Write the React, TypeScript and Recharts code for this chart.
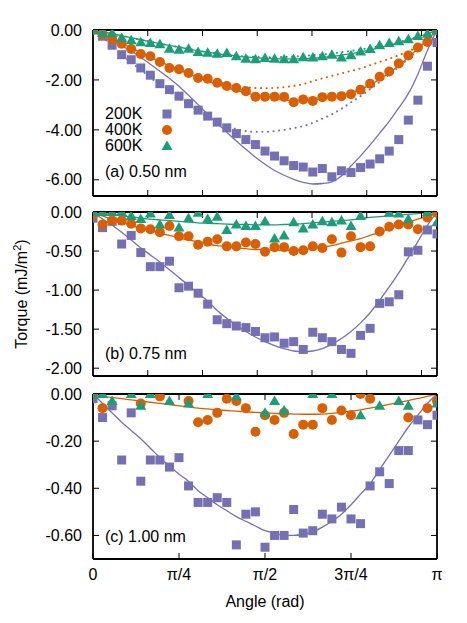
import React from "react";
import { ComposedChart, Line, XAxis, YAxis } from "recharts";

// angles in degrees (5 degree steps), converted to radians for the x axis
const degrees = [
  0, 5, 10, 15, 20, 25, 30, 35, 40, 45, 50, 55, 60, 65, 70, 75, 80, 85, 90,
  95, 100, 105, 110, 115, 120, 125, 130, 135, 140, 145, 150, 155, 160, 165,
  170, 175, 180,
];

// (a) 0.50 nm
const a200 = [0, -0.25, -0.61, -0.99, -1.19, -1.52, -1.81, -2.15, -2.39, -2.65, -2.95, -3.21, -3.45, -3.69, -3.92, -4.15, -4.39, -4.59, -4.85, -5.05, -5.24, -5.43, -5.49, -5.69, -5.55, -5.88, -5.64, -5.71, -5.51, -5.37, -5.16, -4.85, -4.39, -3.61, -2.81, -1.45, -0.5];
const a400 = [0, -0.17, -0.37, -0.55, -0.76, -0.96, -1.05, -1.28, -1.52, -1.57, -1.72, -1.92, -1.95, -2.11, -2.24, -2.32, -2.45, -2.67, -2.67, -2.67, -2.68, -2.89, -2.78, -2.84, -2.69, -2.67, -2.65, -2.57, -2.39, -2.15, -1.87, -1.66, -1.34, -1.02, -0.7, -0.48, 0];
const a600 = [0, -0.12, -0.12, -0.31, -0.41, -0.49, -0.52, -0.57, -0.75, -0.79, -0.75, -0.88, -0.91, -0.95, -0.92, -1.05, -1.15, -1.17, -1.12, -1.15, -1.17, -1.17, -1.09, -1.1, -1.05, -0.99, -1.1, -1.01, -0.86, -0.76, -0.61, -0.52, -0.45, -0.37, -0.24, -0.15, 0];
const fitA200 = [0, -0.2, -0.41, -0.63, -0.85, -1.1, -1.37, -1.65, -1.94, -2.25, -2.62, -2.99, -3.38, -3.74, -4.1, -4.45, -4.78, -5.1, -5.38, -5.63, -5.82, -5.98, -6.1, -6.17, -6.15, -6.08, -5.85, -5.45, -5.04, -4.6, -4.13, -3.66, -3.12, -2.55, -1.77, -0.81, 0];
const fitA400 = [0, -0.17, -0.35, -0.53, -0.72, -0.9, -1.08, -1.26, -1.43, -1.6, -1.76, -1.91, -2.05, -2.18, -2.3, -2.42, -2.52, -2.61, -2.69, -2.75, -2.8, -2.83, -2.83, -2.8, -2.76, -2.7, -2.62, -2.52, -2.38, -2.2, -1.98, -1.72, -1.42, -1.09, -0.74, -0.38, 0];
const fitA600 = [0, -0.07, -0.15, -0.23, -0.31, -0.39, -0.47, -0.55, -0.62, -0.69, -0.76, -0.83, -0.89, -0.95, -1.0, -1.04, -1.08, -1.11, -1.13, -1.15, -1.16, -1.16, -1.15, -1.13, -1.1, -1.06, -1.01, -0.95, -0.88, -0.8, -0.71, -0.62, -0.52, -0.41, -0.29, -0.15, 0];
const dotA200 = [0, -0.28, -0.62, -0.98, -1.3, -1.6, -1.9, -2.2, -2.48, -2.75, -3.0, -3.25, -3.48, -3.68, -3.85, -3.97, -4.05, -4.08, -4.08, -4.05, -4.0, -3.93, -3.85, -3.72, -3.55, -3.38, -3.15, -2.9, -2.65, -2.37, -2.08, -1.78, -1.48, -1.15, -0.8, -0.42, 0];
const dotA400 = [0, -0.17, -0.37, -0.56, -0.75, -0.93, -1.1, -1.27, -1.43, -1.58, -1.73, -1.86, -1.98, -2.08, -2.17, -2.24, -2.29, -2.32, -2.33, -2.32, -2.29, -2.24, -2.17, -2.05, -1.94, -1.84, -1.74, -1.64, -1.54, -1.41, -1.28, -1.15, -1.01, -0.85, -0.67, -0.45, 0];
const dotA600 = [0, -0.07, -0.15, -0.23, -0.31, -0.39, -0.47, -0.55, -0.62, -0.69, -0.76, -0.83, -0.89, -0.94, -0.99, -1.03, -1.06, -1.08, -1.09, -1.09, -1.08, -1.06, -1.04, -1.01, -0.98, -0.94, -0.89, -0.84, -0.78, -0.72, -0.65, -0.57, -0.48, -0.39, -0.28, -0.15, 0];

// (b) 0.75 nm
const b200 = [-0.08, -0.2, -0.12, -0.41, -0.3, -0.52, -0.7, -0.7, -0.63, -0.97, -0.95, -1.04, -1.18, -1.38, -1.43, -1.46, -1.48, -1.53, -1.61, -1.6, -1.68, -1.66, -1.76, -1.54, -1.61, -1.66, -1.76, -1.81, -1.58, -1.49, -1.17, -1.15, -1.06, -0.51, -0.49, -0.23, -0.28];
const b400 = [-0.04, -0.16, -0.11, -0.11, -0.15, -0.21, -0.22, -0.26, -0.18, -0.31, -0.31, -0.42, -0.38, -0.35, -0.44, -0.44, -0.39, -0.41, -0.51, -0.45, -0.45, -0.5, -0.49, -0.44, -0.46, -0.35, -0.52, -0.31, -0.45, -0.44, -0.25, -0.19, -0.16, -0.16, -0.22, -0.07, -0.01];
const b600 = [0, 0, 0, 0, -0.05, -0.09, -0.02, -0.16, -0.04, -0.2, -0.08, -0.01, -0.09, -0.06, -0.23, -0.16, -0.18, -0.18, -0.12, -0.34, -0.3, -0.13, -0.21, -0.16, -0.12, -0.13, -0.11, -0.18, -0.05, null, null, -0.01, -0.02, -0.09, null, 0, -0.13];
const fitB200 = [0, -0.09, -0.17, -0.26, -0.36, -0.46, -0.55, -0.64, -0.74, -0.84, -0.94, -1.04, -1.14, -1.26, -1.36, -1.45, -1.53, -1.6, -1.66, -1.71, -1.75, -1.78, -1.79, -1.78, -1.75, -1.69, -1.62, -1.53, -1.42, -1.29, -1.13, -0.96, -0.78, -0.58, -0.38, -0.17, 0];
const fitB400 = [0, -0.05, -0.09, -0.13, -0.17, -0.21, -0.24, -0.27, -0.3, -0.33, -0.36, -0.38, -0.41, -0.43, -0.44, -0.46, -0.47, -0.48, -0.48, -0.49, -0.49, -0.49, -0.48, -0.47, -0.45, -0.43, -0.4, -0.37, -0.34, -0.3, -0.26, -0.21, -0.17, -0.13, -0.09, -0.05, 0];
const fitB600 = [0, -0.02, -0.03, -0.05, -0.06, -0.08, -0.09, -0.1, -0.11, -0.12, -0.13, -0.14, -0.145, -0.15, -0.155, -0.16, -0.16, -0.165, -0.165, -0.165, -0.16, -0.155, -0.15, -0.14, -0.13, -0.12, -0.11, -0.1, -0.085, -0.07, -0.06, -0.05, -0.04, -0.03, -0.02, -0.01, 0];

// (c) 1.00 nm
const c200 = [-0.02, -0.1, -0.05, -0.28, -0.08, -0.37, -0.28, -0.28, -0.31, -0.27, -0.39, -0.46, -0.46, -0.44, -0.46, -0.64, -0.51, -0.5, -0.65, -0.6, -0.6, -0.49, -0.59, -0.58, -0.51, -0.53, -0.48, -0.53, -0.55, -0.39, -0.33, -0.38, -0.24, -0.24, -0.11, -0.13, -0.09];
const c400 = [0, -0.06, null, null, null, -0.04, null, -0.01, null, null, -0.03, -0.12, -0.11, -0.08, -0.02, -0.03, -0.06, -0.16, -0.09, -0.11, -0.08, -0.17, -0.13, -0.13, -0.06, -0.11, -0.07, -0.09, 0, -0.02, null, null, null, -0.1, null, -0.06, -0.03];
const c600 = [0, 0, -0.03, null, 0, -0.05, 0, null, -0.03, null, -0.04, null, 0, null, null, -0.01, null, null, -0.08, -0.03, -0.07, null, null, 0, null, 0, null, null, -0.09, null, -0.05, null, -0.03, -0.05, null, null, -0.04];
const fitC200 = [0, -0.04, -0.08, -0.12, -0.155, -0.19, -0.23, -0.27, -0.305, -0.34, -0.37, -0.41, -0.44, -0.47, -0.495, -0.52, -0.54, -0.56, -0.58, -0.59, -0.6, -0.6, -0.595, -0.585, -0.565, -0.54, -0.51, -0.47, -0.425, -0.38, -0.32, -0.26, -0.2, -0.14, -0.09, -0.04, 0];
const fitC400 = [0, -0.01, -0.015, -0.02, -0.025, -0.03, -0.035, -0.04, -0.045, -0.05, -0.055, -0.06, -0.063, -0.067, -0.07, -0.073, -0.076, -0.078, -0.08, -0.082, -0.084, -0.085, -0.086, -0.086, -0.085, -0.082, -0.078, -0.073, -0.067, -0.06, -0.052, -0.044, -0.036, -0.028, -0.019, -0.01, 0];

const temps = ["200K", "400K", "600K"];
const yTicksA = [0, -2, -4, -6];
const yTicksB = [0, -0.5, -1, -1.5, -2];
const yTicksC = [0, -0.2, -0.4, -0.6];
const radTicks = [0.5, 1, 1.5, 2, 2.5, 3];
const piTickLabels = ["0", "π/4", "π/2", "3π/4", "π"];
const piTicks = piTickLabels.map((_, k) => (k * Math.PI) / 4);

const PURPLE = "#7570b3";
const ORANGE = "#d95f02";
const GREEN = "#1b9e77";
const FONT = "'Liberation Sans', Arial, sans-serif";
const PAD = 12; // room above/below each plot so edge labels are not clipped

function rows(cols: Record<string, (number | null)[]>) {
  return degrees.map((d, i) => {
    const r: any = { x: (d * Math.PI) / 180 };
    Object.keys(cols).forEach((k) => (r[k] = cols[k][i]));
    return r;
  });
}

const dataA = rows({ p200: a200, p400: a400, p600: a600, f200: fitA200, f400: fitA400, f600: fitA600, d200: dotA200, d400: dotA400, d600: dotA600 });
const dataB = rows({ p200: b200, p400: b400, p600: b600, f200: fitB200, f400: fitB400, f600: fitB600 });
const dataC = rows({ p200: c200, p400: c400, p600: c600, f200: fitC200, f400: fitC400 });

const bad = (p: any) => p.cy == null || isNaN(p.cy) || p.value == null;

const squareDot = (p: any) =>
  bad(p) ? <g key={`s${p.index}`} /> : (
    <rect key={`s${p.index}`} x={p.cx - 4.5} y={p.cy - 4.5} width={9} height={9} fill={PURPLE} />
  );
const circleDot = (p: any) =>
  bad(p) ? <g key={`c${p.index}`} /> : (
    <circle key={`c${p.index}`} cx={p.cx} cy={p.cy} r={5} fill={ORANGE} />
  );
const triangleDot = (p: any) =>
  bad(p) ? <g key={`t${p.index}`} /> : (
    <polygon
      key={`t${p.index}`}
      points={`${p.cx},${p.cy - 5.5} ${p.cx - 5.5},${p.cy + 4} ${p.cx + 5.5},${p.cy + 4}`}
      fill={GREEN}
    />
  );

const noLabel = () => <g />;

function points(key: string, dot: any) {
  return (
    <Line
      key={key}
      xAxisId="b"
      yAxisId="l"
      dataKey={key}
      stroke="none"
      dot={dot}
      activeDot={false}
      isAnimationActive={false}
    />
  );
}

function fit(key: string, color: string, dotted = false) {
  return (
    <Line
      key={key}
      xAxisId="t"
      yAxisId="r"
      type="monotone"
      dataKey={key}
      stroke={color}
      strokeWidth={dotted ? 2 : 1.3}
      strokeDasharray={dotted ? "0.1 5.5" : undefined}
      strokeLinecap="round"
      dot={false}
      activeDot={false}
      isAnimationActive={false}
    />
  );
}

const axisLine = { stroke: "#000", strokeWidth: 1.8 };
const tickLine = { stroke: "#000", strokeWidth: 1 };
const tickText = { fill: "#000", fontSize: 16, fontFamily: FONT };

function Panel({ top, plotH, bottomH, data, yDomain, yTicks, xTicks, labelled, children }: any) {
  const xTick = labelled ? tickText : noLabel;
  const padBottom = labelled ? 0 : PAD;
  return (
    <div style={{ position: "absolute", left: 0, top: top - 1 - PAD }}>
      <ComposedChart
        width={467}
        height={PAD + 1 + plotH + bottomH + padBottom}
        data={data}
        margin={{ top: PAD, right: 0, bottom: padBottom, left: 0 }}
      >
        <XAxis
          xAxisId="b"
          dataKey="x"
          type="number"
          domain={[0, Math.PI]}
          allowDataOverflow
          ticks={xTicks}
          interval={0}
          height={bottomH}
          axisLine={axisLine}
          tickLine={tickLine}
          tickSize={-6}
          tickMargin={16}
          tick={xTick}
          tickFormatter={(v: number) => piTickLabels[Math.round(v / (Math.PI / 4))] ?? ""}
        />
        <XAxis
          xAxisId="t"
          orientation="top"
          dataKey="x"
          type="number"
          domain={[0, Math.PI]}
          allowDataOverflow
          ticks={xTicks}
          interval={0}
          height={1}
          axisLine={axisLine}
          tickLine={tickLine}
          tickSize={-6}
          tick={noLabel}
        />
        <YAxis
          yAxisId="l"
          type="number"
          domain={yDomain}
          allowDataOverflow
          ticks={yTicks}
          interval={0}
          width={93}
          axisLine={axisLine}
          tickLine={tickLine}
          tickSize={-6}
          tickMargin={17}
          tick={tickText}
          tickFormatter={(v: number) => v.toFixed(2)}
        />
        <YAxis
          yAxisId="r"
          orientation="right"
          type="number"
          domain={yDomain}
          allowDataOverflow
          ticks={yTicks}
          interval={0}
          width={30}
          axisLine={axisLine}
          tickLine={tickLine}
          tickSize={-6}
          tick={noLabel}
        />
        {children}
      </ComposedChart>
    </div>
  );
}

function Text({ x, y, children, style }: any) {
  return (
    <div
      style={{
        position: "absolute",
        left: x,
        top: y - 8,
        lineHeight: "16px",
        fontSize: 16,
        whiteSpace: "nowrap",
        ...style,
      }}
    >
      {children}
    </div>
  );
}

function Marker({ kind, x, y }: any) {
  return (
    <svg style={{ position: "absolute", left: x - 7, top: y - 7 }} width={14} height={14}>
      {kind === 0 && <rect x={2.5} y={2.5} width={9} height={9} fill={PURPLE} />}
      {kind === 1 && <circle cx={7} cy={7} r={5} fill={ORANGE} />}
      {kind === 2 && <polygon points="7,1.5 1.5,11 12.5,11" fill={GREEN} />}
    </svg>
  );
}

export default function App() {
  return (
    <div
      style={{
        position: "absolute",
        left: 0,
        top: 0,
        width: 467,
        height: 623,
        background: "#fff",
        fontFamily: FONT,
        color: "#000",
      }}
    >
      <Panel top={30} plotH={166} bottomH={1} data={dataA} yDomain={[-6.65, 0]} yTicks={yTicksA} xTicks={radTicks}>
        {points("p200", squareDot)}
        {fit("d200", PURPLE, true)}
        {fit("f200", PURPLE)}
        {points("p400", circleDot)}
        {fit("d400", ORANGE, true)}
        {fit("f400", ORANGE)}
        {points("p600", triangleDot)}
        {fit("d600", GREEN, true)}
        {fit("f600", GREEN)}
      </Panel>

      <Panel top={212} plotH={164} bottomH={1} data={dataB} yDomain={[-2.1, 0]} yTicks={yTicksB} xTicks={radTicks}>
        {points("p200", squareDot)}
        {fit("f200", PURPLE)}
        {points("p400", circleDot)}
        {fit("f400", ORANGE)}
        {points("p600", triangleDot)}
        {fit("f600", GREEN)}
      </Panel>

      <Panel top={394} plotH={165} bottomH={40} data={dataC} yDomain={[-0.7, 0]} yTicks={yTicksC} xTicks={piTicks} labelled>
        {points("p200", squareDot)}
        {fit("f200", PURPLE)}
        {points("p400", circleDot)}
        {fit("f400", ORANGE)}
        {points("p600", triangleDot)}
      </Panel>

      {temps.map((t, k) => (
        <React.Fragment key={t}>
          <Text x={105} y={113.5 + k * 16}>{t}</Text>
          <Marker kind={k} x={167} y={113.5 + k * 16} />
        </React.Fragment>
      ))}

      <Text x={105} y={171.5}>(a) 0.50 nm</Text>
      <Text x={105} y={353.5}>(b) 0.75 nm</Text>
      <Text x={105} y={536.5}>(c) 1.00 nm</Text>

      <Text x={265} y={602} style={{ transform: "translateX(-50%)" }}>Angle (rad)</Text>

      <div
        style={{
          position: "absolute",
          left: 22,
          top: 294,
          fontSize: 16,
          lineHeight: "16px",
          whiteSpace: "nowrap",
          transform: "translate(-50%, -50%) rotate(-90deg)",
        }}
      >
        Torque (mJ/m<sup style={{ fontSize: 11, lineHeight: 0 }}>2</sup>)
      </div>
    </div>
  );
}
